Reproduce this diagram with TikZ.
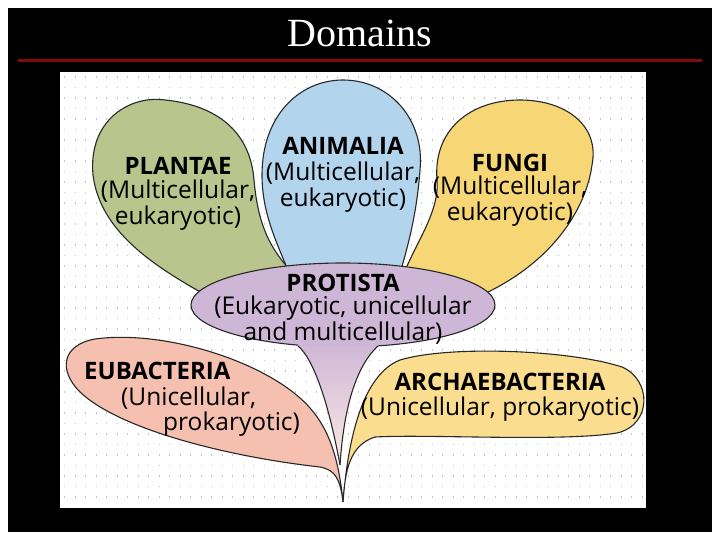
\documentclass[tikz,border=0pt]{standalone}
\usepackage{fontspec}
\setmainfont{Liberation Serif}
\newfontfamily\labfont{Open Sans}
\definecolor{plantc}{RGB}{185,197,140}
\definecolor{animc}{RGB}{178,212,236}
\definecolor{fungc}{RGB}{247,214,118}
\definecolor{protc}{RGB}{206,182,214}
\definecolor{eubac}{RGB}{245,192,176}
\definecolor{archc}{RGB}{250,221,142}
\definecolor{edgec}{RGB}{40,40,40}
\definecolor{titlered}{RGB}{130,10,10}
\definecolor{gridc}{RGB}{195,195,195}
\tikzset{
  petal/.style={draw=edgec, line width=1.1pt},
  lab/.style={font=\labfont\fontsize{24.5}{26}\selectfont, text=black, align=center, inner sep=0pt},
  labb/.style={font=\labfont\bfseries\fontsize{24}{26}\selectfont, text=black, inner sep=0pt},
}
\begin{document}
\begin{tikzpicture}[x=1pt,y=-1pt]
\useasboundingbox (0,0) rectangle (720,540);
\fill[white] (0,0) rectangle (720,540);
\fill[black] (8,8) rectangle (712,532);
\node[text=white, font=\fontsize{40}{44}\selectfont, anchor=base] (title) at (360,47) {Domains};
\draw[titlered, line width=3pt] (18,61) -- (702,61);
\fill[white] (60,72) rectangle (646,508);
% dotted grid
\foreach \yy in {77,87.5,...,505} {
  \draw[gridc, line width=1.2pt, dash pattern=on 1.2pt off 9.3pt] (64,\yy) -- (644,\yy);
}
% petals
\draw[petal, fill=plantc] (215,300) .. controls (150,265) and (100,230) .. (93,175)
  .. controls (88,120) and (130,95) .. (165,100)
  .. controls (215,105) and (250,130) .. (254,180)
  .. controls (258,225) and (270,250) .. (295,275) -- cycle;
\draw[petal, fill=animc] (292,280) .. controls (278,245) and (262,215) .. (262,175)
  .. controls (262,115) and (300,80) .. (343,80)
  .. controls (390,80) and (425,120) .. (420,170)
  .. controls (417,210) and (410,240) .. (398,280) -- cycle;
\draw[petal, fill=fungc] (400,285) .. controls (410,250) and (440,215) .. (437,180)
  .. controls (433,130) and (470,100) .. (520,100)
  .. controls (565,100) and (600,125) .. (592,165)
  .. controls (585,215) and (545,270) .. (470,300) -- cycle;
% bacteria
\draw[petal, fill=eubac] (343,502) .. controls (340,478) and (335,470) .. (320,467)
  .. controls (230,457) and (120,430) .. (80,392)
  .. controls (58,370) and (62,345) .. (95,339)
  .. controls (160,330) and (255,358) .. (300,398)
  .. controls (325,420) and (338,450) .. (343,502) -- cycle;
\draw[petal, fill=archc] (343,502) .. controls (345,470) and (350,445) .. (375,437)
  .. controls (430,434) and (560,442) .. (617,433)
  .. controls (652,425) and (652,380) .. (622,367)
  .. controls (570,350) and (450,345) .. (400,360)
  .. controls (362,375) and (348,440) .. (343,502) -- cycle;
% protista
\draw[petal, fill=protc] (343,305) ellipse [x radius=152, y radius=42];
\shade[top color=protc, bottom color=eubac!35] (298,340) -- (298,346)
  .. controls (315,360) and (330,410) .. (340,465)
  .. controls (343,420) and (352,370) .. (378,346) -- (378,340) -- cycle;
\fill[protc] (298,335) rectangle (378,347);
\draw[petal] (298,346) .. controls (315,360) and (330,410) .. (340,465);
\draw[petal] (378,346) .. controls (352,370) and (343,420) .. (340,465);
% labels
\node[labb] (plantae) at (178,166) {PLANTAE};
\node[lab] (plantaed) at (178,205) {(Multicellular,\\eukaryotic)};
\node[labb] (animalia) at (343,146) {ANIMALIA};
\node[lab] (animaliad) at (343,187) {(Multicellular,\\eukaryotic)};
\node[labb] (fungi) at (510,163) {FUNGI};
\node[lab] (fungid) at (510,201) {(Multicellular,\\eukaryotic)};
\node[labb] (protista) at (343,283) {PROTISTA};
\node[lab] (protistad) at (343,320) {(Eukaryotic, unicellular\\and multicellular)};
\node[labb, anchor=west] (eubacteria) at (84,371) {EUBACTERIA};
\node[lab, anchor=west] (eubad1) at (121,398) {(Unicellular,};
\node[lab, anchor=west] (eubad2) at (163,424) {prokaryotic)};
\node[labb] (archae) at (500,382) {ARCHAEBACTERIA};
\node[lab] (archaed) at (500,409) {(Unicellular, prokaryotic)};
\end{tikzpicture}
\end{document}
